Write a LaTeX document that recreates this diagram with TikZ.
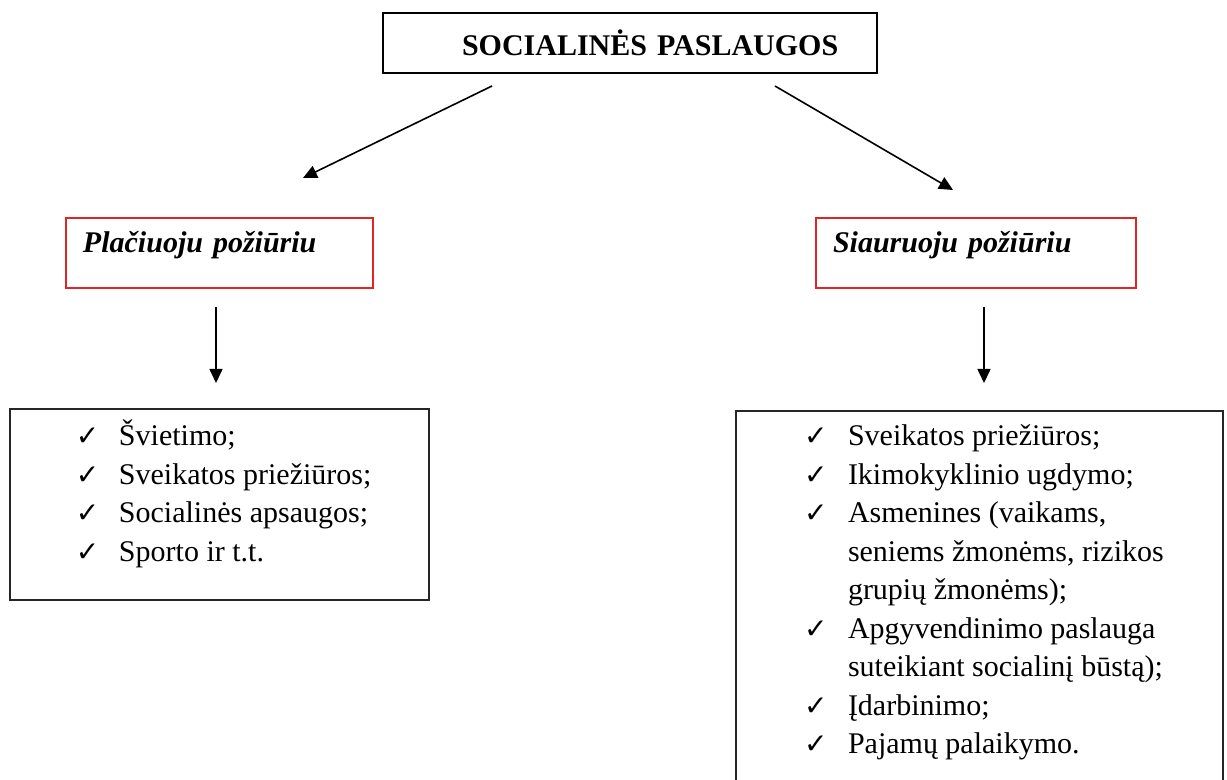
\documentclass[tikz,border=0pt]{standalone}
\usepackage{fontspec}
\setmainfont{Liberation Serif}
\newfontfamily\checkfont{DejaVu Sans}
\usepackage{array}
\usetikzlibrary{arrows.meta, positioning}
\definecolor{framered}{RGB}{222,38,38}
\newcommand{\ck}{{\checkfont\fontsize{14}{14}\selectfont ✓}}

\begin{document}
\begin{tikzpicture}[x=0.5pt, y=-0.5pt,
    every node/.style={font=\fontsize{15}{19.25}\selectfont},
    headbox/.style={draw=black, line width=1pt, inner sep=0pt, minimum width=247pt,
      minimum height=30pt, text width=247pt, align=left,
      font=\fontsize{15}{19.25}\selectfont\bfseries},
    viewbox/.style={draw=framered, line width=1pt, inner xsep=8.5pt, inner ysep=0pt,
      text height=17.5pt, text depth=17.5pt, align=left, anchor=north west,
      font=\fontsize{15}{19.25}\selectfont\bfseries\itshape},
    listbox/.style={draw=black!85, line width=1pt, inner sep=0pt, anchor=north west},
    arr/.style={-{Triangle[length=7pt,width=6.5pt]}, line width=0.8pt}
  ]
  \useasboundingbox (0,0) rectangle (1227,780);
  \clip (0,0) rectangle (1227,780);

  \node[headbox] (title) at (630,43) {\hspace*{39.5pt}SOCIALINĖS PASLAUGOS};

  \node[viewbox, text width=136.5pt] (wide) at (65,217) {Plačiuoju požiūriu};
  \node[viewbox, text width=143pt] (narrow) at (815,217) {Siauruoju požiūriu};

  \node[listbox, text height=18.5pt, text depth=77pt] (widelist) at (9,408) {%
    \begin{tabular}[t]{@{\hspace{33pt}}p{21.5pt}@{}p{155pt}@{}}
      \ck & Švietimo;\\
      \ck & Sveikatos priežiūros;\\
      \ck & Socialinės apsaugos;\\
      \ck & Sporto ir t.t.
    \end{tabular}};

  \node[listbox, text height=17.5pt, text depth=185pt] (narrowlist) at (735,410) {%
    \begin{tabular}[t]{@{\hspace{34pt}}p{22pt}@{}p{187.5pt}@{}}
      \ck & Sveikatos priežiūros;\\
      \ck & Ikimokyklinio ugdymo;\\
      \ck & Asmenines (vaikams,\\
          & seniems žmonėms, rizikos\\
          & grupių žmonėms);\\
      \ck & Apgyvendinimo paslauga\\
          & suteikiant socialinį būstą);\\
      \ck & Įdarbinimo;\\
      \ck & Pajamų palaikymo.
    \end{tabular}};

  \draw[arr] ([shift={(-138,12)}]title.south) -- ([shift={(83.5,-39)}]wide.north);
  \draw[arr] ([shift={(145,12)}]title.south) -- ([shift={(-23,-27)}]narrow.north);
  \draw[arr] ([shift={(-3.5,18)}]wide.south) -- ([shift={(-3.5,-25)}]widelist.north);
  \draw[arr] ([shift={(8,18)}]narrow.south) -- ([shift={(4.5,-27)}]narrowlist.north);
\end{tikzpicture}
\end{document}
